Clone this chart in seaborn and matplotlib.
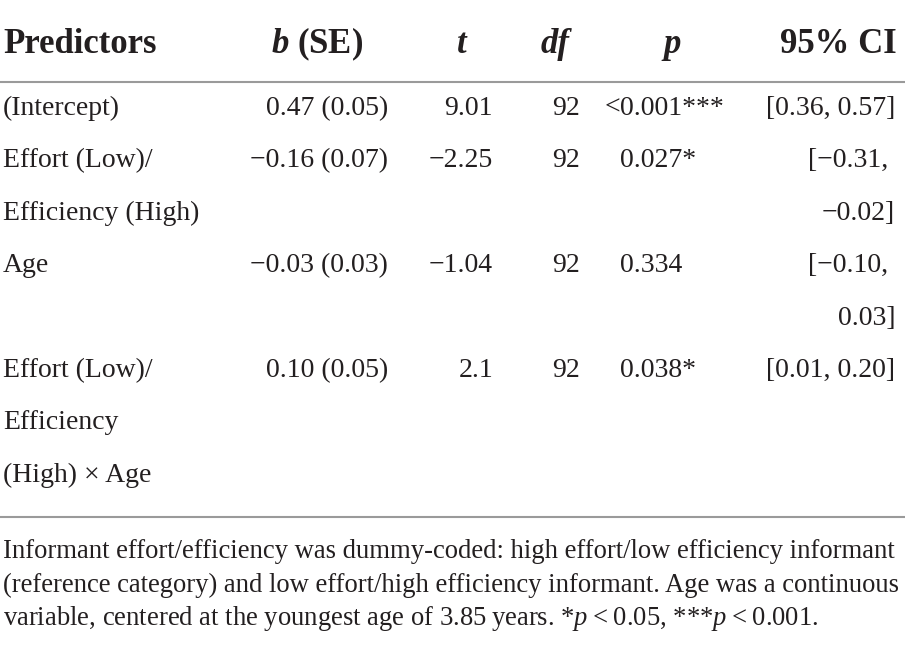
import matplotlib
matplotlib.use("Agg")
import matplotlib.pyplot as plt
import seaborn as sns

# ---------------- data ----------------
headers = ["Predictors", "b (SE)", "t", "df", "p", "95% CI"]
predictors = [["(Intercept)"],
              ["Effort (Low)/", "Efficiency (High)"],
              ["Age"],
              ["Effort (Low)/", "Efficiency", "(High) \u00d7 Age"]]
b_se = ["0.47 (0.05)", "\u22120.16 (0.07)", "\u22120.03 (0.03)", "0.10 (0.05)"]
t_vals = ["9.01", "\u22122.25", "\u22121.04", "2.1"]
df_vals = ["92", "92", "92", "92"]
p_vals = ["<0.001***", "0.027*", "0.334", "0.038*"]
ci_vals = [["[0.36, 0.57]"],
           ["[\u22120.31, ", "\u22120.02]"],
           ["[\u22120.10, ", "0.03]"],
           ["[0.01, 0.20]"]]
footnote = ["Informant effort/efficiency was dummy-coded: high effort/low efficiency informant",
            "(reference category) and low effort/high efficiency informant. Age was a continuous",
            "variable, centered at the youngest age of 3.85\u2009years. *$p$\u2009<\u20090.05, ***$p$\u2009<\u20090.001."]

# ---------------- style ----------------
sns.set_theme(style="white")
plt.rcParams["font.family"] = ["Liberation Serif", "DejaVu Serif"]
plt.rcParams["mathtext.fontset"] = "custom"
plt.rcParams["mathtext.rm"] = "Liberation Serif"
plt.rcParams["mathtext.it"] = "Liberation Serif:italic"
plt.rcParams["mathtext.bf"] = "Liberation Serif:bold"
plt.rcParams["mathtext.bfit"] = "Liberation Serif:bold:italic"

TXT = "#231f20"
RULE = "#9a9a9a"
BODY = 20
HEAD = 25
FOOT = 19.15

W, H = 905, 647
fig = plt.figure(figsize=(W / 100, H / 100), dpi=100)
ax = fig.add_axes([0, 0, 1, 1])
ax.set_xlim(0, W)
ax.set_ylim(H, 0)
ax.axis("off")

# layout
pred_x = 3
b_right, t_right, df_right, p_left, ci_right = 388, 493, 580, 620, 895
head_centers = [None, 317, 462, 555, 672, 838]
head_base = 53
rule_top, rule_bot = 82, 517
first_base = 115
line_gap = 52.4
foot_base = 558
foot_gap = 33.5

# header
ax.text(pred_x, head_base, headers[0], fontsize=HEAD, fontweight="bold",
        color=TXT, ha="left", va="baseline")
ax.text(head_centers[1], head_base, r"$\mathbfit{b}$ (SE)", fontsize=HEAD,
        fontweight="bold", color=TXT, ha="center", va="baseline")
for i in (2, 3, 4):
    ax.text(head_centers[i], head_base, headers[i], fontsize=HEAD,
            fontweight="bold", fontstyle="italic", color=TXT,
            ha="center", va="baseline")
ax.text(head_centers[5], head_base, headers[5], fontsize=HEAD,
        fontweight="bold", color=TXT, ha="center", va="baseline")

ax.plot([0, W], [rule_top, rule_top], color=RULE, lw=1.5, solid_capstyle="butt")

# body rows
y = first_base
for i in range(len(predictors)):
    for k, line in enumerate(predictors[i]):
        ax.text(pred_x, y + k * line_gap, line, fontsize=BODY, color=TXT,
                ha="left", va="baseline")
    ax.text(b_right, y, b_se[i], fontsize=BODY, color=TXT, ha="right", va="baseline")
    ax.text(t_right, y, t_vals[i], fontsize=BODY, color=TXT, ha="right", va="baseline")
    ax.text(df_right, y, df_vals[i], fontsize=BODY, color=TXT, ha="right", va="baseline")
    pv = p_vals[i]
    if pv.startswith("<"):
        ax.text(p_left, y, "<", fontsize=BODY, color=TXT, ha="right", va="baseline")
        pv = pv[1:]
    ax.text(p_left, y, pv, fontsize=BODY, color=TXT, ha="left", va="baseline")
    for k, line in enumerate(ci_vals[i]):
        ax.text(ci_right, y + k * line_gap, line, fontsize=BODY, color=TXT,
                ha="right", va="baseline")
    n = max(len(predictors[i]), len(ci_vals[i]))
    y += n * line_gap

ax.plot([0, W], [rule_bot, rule_bot], color=RULE, lw=1.5, solid_capstyle="butt")

for k, line in enumerate(footnote):
    ax.text(pred_x, foot_base + k * foot_gap, line, fontsize=FOOT, color=TXT,
            ha="left", va="baseline")

fig.savefig("out.png", dpi=100)
